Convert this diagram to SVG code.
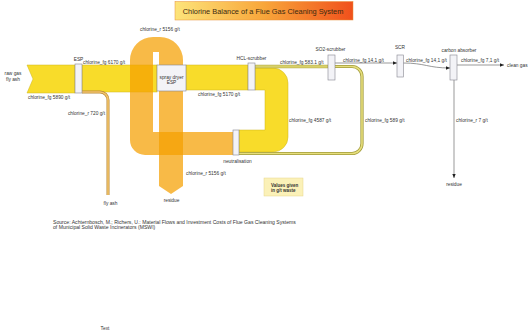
<svg xmlns="http://www.w3.org/2000/svg" width="530" height="331" viewBox="0 0 530 331">
<defs>
<linearGradient id="tg" x1="0" y1="0" x2="1" y2="0">
<stop offset="0" stop-color="#fde47a"/>
<stop offset="0.5" stop-color="#f8a63a"/>
<stop offset="1" stop-color="#f0501c"/>
</linearGradient>
<marker id="ah" markerWidth="5" markerHeight="5" refX="4.5" refY="2.5" orient="auto" markerUnits="userSpaceOnUse">
<path d="M0,0.6 L4.5,2.5 L0,4.4 Z" fill="#222"/>
</marker>
<style>
text{font-family:"Liberation Sans",Arial,sans-serif;font-size:4.8px;fill:#333}
.c{text-anchor:middle}
.e{text-anchor:end}
.box{fill:#f3f3f7;stroke:#858590;stroke-width:0.6}
.yel{fill:#f8dc2a;stroke:#cdb51c;stroke-width:0.5}
.org{fill:#f5a000;fill-opacity:0.72}
.ln{fill:none;stroke:#6d6d6d;stroke-width:0.7}
</style>
</defs>
<rect width="530" height="331" fill="#ffffff"/>

<g id="title">
<rect x="175" y="1.5" width="178" height="18.5" fill="url(#tg)" stroke="#e8903a" stroke-width="0.5"/>
<text x="263" y="13.6" class="c" style="font-size:7.4px;fill:#3a2a10">Chlorine Balance of a Flue Gas Cleaning System</text>
</g>

<g id="connectors">
<polygon class="yel" points="27,65 75,65 75,93 27,93 33,79"/>
<rect class="yel" x="82" y="65" width="75" height="27"/>
<rect class="yel" x="186" y="65" width="62" height="25"/>
<path class="yel" d="M255,68 L273,68 A15,15 0 0 1 288,83 L288,137 A15,15 0 0 1 273,152 L239,152 L239,130 L265,130 L265,90 L255,90 Z"/>
<rect x="255" y="65" width="73" height="3" fill="#d8d06a" stroke="#a49c30" stroke-width="0.4"/>
<path class="org" d="M233,132 L153,132 L153,52 L159,52 L159,60 L183,60 A23,23 0 0 0 160,37 L153,37 A23,23 0 0 0 130,60 L130,140 A15,15 0 0 0 145,155 L233,155 Z"/>
<path class="org" d="M159,60 L183,60 L183,186 L171,194 L159,186 Z"/>
<path d="M335,66.5 L352,66.5 A10,10 0 0 1 362,76.5 L362,143.5 A10,10 0 0 1 352,153.5 L239,153.5" fill="none" stroke="#a09a38" stroke-width="3.2"/>
<path d="M335,66.5 L352,66.5 A10,10 0 0 1 362,76.5 L362,143.5 A10,10 0 0 1 352,153.5 L239,153.5" fill="none" stroke="#e6de7c" stroke-width="1.6"/>
<path d="M82,92 L100,92 A8,8 0 0 1 108,100 L108,195" fill="none" stroke="#b88a3a" stroke-width="3"/>
<path d="M82,92 L100,92 A8,8 0 0 1 108,100 L108,195" fill="none" stroke="#f3c46a" stroke-width="1.6"/>
<path class="ln" d="M335,63 L397,63" marker-end="url(#ah)"/>
<path class="ln" d="M403,63 C425,63 428,68 450,68" marker-end="url(#ah)"/>
<path class="ln" d="M457,65 L504,65" marker-end="url(#ah)"/>
<path class="ln" d="M454,80 L454,178" marker-end="url(#ah)"/>
<text x="83" y="63.5">chlorine_fg 6170 g/t</text>
<text x="28" y="98.5">chlorine_fg 5890 g/t</text>
<text x="140" y="31">chlorine_r 5156 g/t</text>
<text x="105" y="115" class="e">chlorine_r 720 g/t</text>
<text x="198" y="96">chlorine_fg 5170 g/t</text>
<text x="280" y="63.5">chlorine_fg 583.1 g/t</text>
<text x="343" y="61.5">chlorine_fg 14,1 g/t</text>
<text x="406" y="61.5">chlorine_fg 14,1 g/t</text>
<text x="461" y="61.5">chlorine_fg 7,1 g/t</text>
<text x="289" y="121.5">chlorine_fg 4587 g/t</text>
<text x="365" y="121.5">chlorine_fg 589 g/t</text>
<text x="456" y="121.5">chlorine_r 7 g/t</text>
<text x="186" y="174.5">chlorine_r 5156 g/t</text>
</g>

<g id="raw-gas">
<text x="13" y="74.5" class="c">raw gas</text>
<text x="13" y="81" class="c">fly ash</text>
</g>
<g id="esp">
<rect class="box" x="75" y="64" width="7" height="29"/>
<text x="78.5" y="61" class="c">ESP</text>
</g>
<g id="spray-dryer">
<rect class="box" x="157" y="65" width="29" height="26"/>
<text x="171.5" y="78.5" class="c">spray dryer</text>
<text x="171.5" y="84" class="c">ESP</text>
</g>
<g id="hcl-scrubber">
<rect class="box" x="248" y="63" width="7" height="27"/>
<text x="251.5" y="60" class="c">HCL-scrubber</text>
</g>
<g id="so2-scrubber">
<rect class="box" x="328" y="55" width="7" height="25"/>
<text x="330.5" y="51" class="c">SO2-scrubber</text>
</g>
<g id="scr">
<rect class="box" x="397" y="55" width="6.5" height="22"/>
<text x="400" y="48.5" class="c">SCR</text>
</g>
<g id="carbon-absorber">
<rect class="box" x="450" y="55" width="7" height="25"/>
<text x="459" y="51.5" class="c">carbon absorber</text>
</g>
<g id="neutralisation">
<rect class="box" x="233" y="130" width="6" height="25"/>
<text x="237.5" y="162.5" class="c">neutralisation</text>
</g>
<g id="clean-gas">
<text x="507" y="67">clean gas</text>
</g>
<g id="residue-carbon">
<text x="454" y="186" class="c">residue</text>
</g>
<g id="residue-spray">
<text x="171.5" y="201.5" class="c">residue</text>
</g>
<g id="fly-ash">
<text x="110.5" y="204.5" class="c">fly ash</text>
</g>
<g id="note">
<rect x="264" y="178" width="39" height="18" fill="#fbf1b8" stroke="#e6d68a" stroke-width="0.5"/>
<text x="271" y="187" style="font-weight:bold;font-size:4.5px">Values given</text>
<text x="271" y="192" style="font-weight:bold;font-size:4.5px">in g/t waste</text>
</g>
<g id="source">
<text x="53" y="223.5" style="font-size:5.1px">Source: Achternbosch, M.; Richers, U.: Material Flows and Investment Costs of Flue Gas Cleaning Systems</text>
<text x="53" y="228.8" style="font-size:5.1px">of Municipal Solid Waste Incinerators (MSWI)</text>
</g>
<g id="footer">
<text x="105" y="330" class="c">Text</text>
</g>
</svg>
